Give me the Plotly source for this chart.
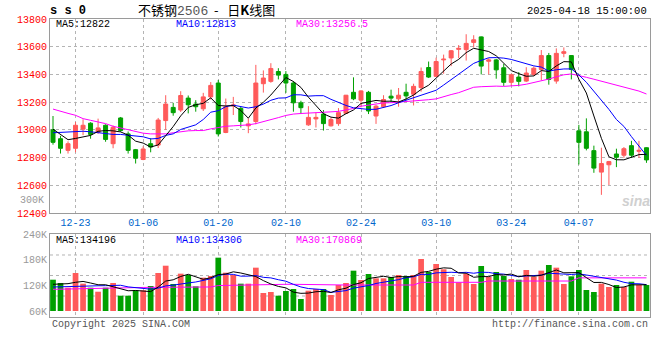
import plotly.graph_objects as go

# ---------------- data ----------------
dates = ["12-18","12-19","12-20","12-23","12-24","12-25","12-26","12-27","12-30","12-31",
         "01-02","01-03","01-06","01-07","01-08","01-09","01-10","01-13","01-14","01-15",
         "01-16","01-17","01-20","01-21","01-22","01-23","01-24","01-27",
         "02-05","02-06","02-07","02-10","02-11","02-12","02-13","02-14","02-17","02-18",
         "02-19","02-20","02-21","02-24","02-25","02-26","02-27","02-28",
         "03-03","03-04","03-05","03-06","03-07","03-10","03-11","03-12","03-13","03-14",
         "03-17","03-18","03-19","03-20","03-21","03-24","03-25","03-26","03-27","03-28","03-31",
         "04-01","04-02","04-03","04-07","04-08","04-09","04-10","04-11",
         "04-14","04-15","04-16","04-17","04-18"]

opens = [13000,12936,12852,12867,13005,13048,12981,13033,12900,13086,
         12971,12857,12786,12900,12890,13067,13162,13143,13229,13186,
         13152,13238,13338,12981,13172,13155,13029,13060,13333,13350,
         13421,13400,13338,13195,13036,13079,13114,13029,13045,13119,
         13271,13214,13271,13100,13167,13243,13224,13271,13257,13305,
         13450,13386,13505,13519,13581,13579,13631,13671,13495,13505,
         13448,13343,13381,13352,13400,13436,13536,13352,13552,13536,
         12993,12986,12850,12695,12748,12826,12817,12886,12845,12871]
highs = [13100,12957,12917,13057,13076,13055,13081,13040,13031,13093,
         12988,12862,12881,12940,13086,13250,13195,13279,13248,13214,
         13267,13345,13360,13226,13238,13167,13083,13469,13429,13481,
         13445,13424,13352,13210,13171,13124,13143,13090,13157,13252,
         13379,13286,13281,13181,13250,13290,13302,13333,13333,13450,
         13493,13521,13543,13576,13612,13690,13683,13674,13517,13512,
         13476,13405,13417,13452,13457,13576,13555,13588,13595,13538,
         13036,13083,12886,12871,12776,12864,12876,12921,12921,12874]
lows = [12893,12829,12829,12838,12962,12936,12971,12914,12867,12986,
        12829,12757,12781,12838,12869,13000,13102,13129,13119,13131,
        13136,13219,12952,12976,13107,13017,12976,13040,13269,13340,
        13364,13267,13131,13114,13029,13017,12995,13024,13029,13114,
        13214,13162,13114,13043,13160,13200,13167,13214,13176,13276,
        13374,13381,13405,13460,13517,13500,13595,13400,13400,13369,
        13317,13317,13314,13345,13388,13357,13326,13333,13524,13364,
        12750,12852,12690,12531,12602,12731,12798,12798,12798,12762]
closes = [12910,12867,12900,13033,13033,12967,13014,12931,13019,12995,
          12852,12795,12862,12876,13071,13186,13124,13248,13181,13167,
          13238,13321,12971,13167,13180,13060,13043,13338,13374,13443,
          13395,13338,13195,13160,13090,13090,13045,13074,13124,13250,
          13224,13281,13136,13171,13219,13229,13250,13245,13314,13421,
          13381,13493,13510,13571,13588,13624,13650,13460,13505,13433,
          13343,13398,13350,13410,13445,13536,13364,13552,13564,13436,
          12910,12867,12724,12757,12771,12802,12864,12817,12852,12783]

# moving-average values before enough history is visible
ma5_head = [13005, 12964, 12929, 12938]
ma10_head = [12979, 12981, 12988, 12990, 12990, 12986, 12979, 12971, 12967]
ma30_head = [13150, 13133, 13119, 13105, 13081, 13069, 13057, 13045, 13026, 13014,
             13000, 12986, 12976, 12971, 12969, 12971, 12979, 12988, 12993, 12995,
             12995, 13007, 13019, 13026, 13029, 13031, 13036, 13045, 13058]

# volume (thousand lots, read on the panel's scale)
volumes = [133.2,125.5,114.5,148.8,123.9,114.5,105.1,114.5,125.5,95.8,
           95.8,108.4,108.4,118.5,148.8,165.9,123.1,147.3,144.2,117.7,
           137.9,141.8,184.7,149.6,144.2,123.9,123.9,161.3,102.1,104.4,
           95.8,106.8,111.4,88.1,107.5,111.4,111.4,97.4,120.8,125.5,
           154.3,132.5,146.5,136.4,136.4,139.5,144.2,141.8,144.2,181.6,
           151.2,169.9,157.5,139.5,127.0,147.3,123.1,165.2,139.5,151.2,
           141.8,134.8,133.2,155.9,140.2,154.3,167.5,161.3,123.1,141.1,
           155.9,109.1,104.4,123.9,116.1,120.8,116.1,128.5,120.8,120.8]
vma5_head = [122.4, 123.1, 123.9, 127.1]
vma10_head = [116.1, 116.8, 117.3, 117.8, 118.5, 118.8, 119.0, 119.2, 119.2]
vol_ma30 = [110.7,111.2,111.7,112.2,112.8,113.1,113.5,113.8,114.1,114.5,
            114.7,114.9,115.1,115.3,115.4,115.5,115.7,115.8,116.0,116.1,
            116.1,116.2,119.5,120.0,120.5,121.0,121.5,121.8,122.2,122.4,
            122.4,122.4,122.4,122.0,121.5,121.0,120.8,120.8,120.8,120.8,
            120.8,120.8,120.8,120.8,120.8,120.8,120.8,120.8,120.8,127.1,
            127.1,127.1,127.1,127.1,127.1,127.1,127.1,127.1,130.1,130.1,
            130.1,130.1,130.1,130.1,130.1,130.1,130.1,130.1,130.1,130.1,
            137.5,137.5,137.5,137.5,137.5,137.5,137.5,137.5,137.5,137.5]

price_ticks = [12400, 12600, 12800, 13000, 13200, 13400, 13600, 13800]
price_tick_text = ["12400", "12600", "12800", "13000", "13200", "13400", "13600", "13800"]
tick_dates = ["12-23", "01-06", "01-20", "02-10", "02-24", "03-10", "03-24", "04-07"]
vol_ticks = [60, 120, 180, 240]
vol_tick_text = ["60K", "120K", "180K", "240K"]
vol_base = 60


def moving_avg(vals, n, head):
    out = list(head)
    for i in range(len(head), len(vals)):
        out.append(sum(vals[i - n + 1:i + 1]) / n)
    return out


ma5 = moving_avg(closes, 5, ma5_head)
ma10 = moving_avg(closes, 10, ma10_head)
ma30 = moving_avg(closes, 30, ma30_head)
vma5 = moving_avg(volumes, 5, vma5_head)
vma10 = moving_avg(volumes, 10, vma10_head)

RED = "#FF5A5A"
GREEN = "#00A000"
MONO = "Liberation Mono, DejaVu Sans Mono, monospace"
GRID = "#B4B4B4"
FRAME = "#9A9A9A"

fig = go.Figure()
fig.add_trace(go.Candlestick(
    x=dates, open=opens, high=highs, low=lows, close=closes,
    increasing=dict(line=dict(color=RED, width=1), fillcolor=RED),
    decreasing=dict(line=dict(color=GREEN, width=1), fillcolor=GREEN),
    whiskerwidth=0, hoverinfo="skip", xaxis="x", yaxis="y"))
for vals, col in [(ma30, "#FF00FF"), (ma10, "#0000FF"), (ma5, "#000000")]:
    fig.add_trace(go.Scatter(x=dates, y=vals, mode="lines",
                             line=dict(color=col, width=1), hoverinfo="skip",
                             xaxis="x", yaxis="y"))

bar_colors = [RED if c >= o else GREEN for o, c in zip(opens, closes)]
fig.add_trace(go.Bar(x=dates, y=[v - vol_base for v in volumes], base=vol_base,
                     marker=dict(color=bar_colors, line=dict(width=0)),
                     hoverinfo="skip", xaxis="x2", yaxis="y2"))
for vals, col in [(vol_ma30, "#FF00FF"), (vma10, "#0000FF"), (vma5, "#000000")]:
    fig.add_trace(go.Scatter(x=dates, y=vals, mode="lines",
                             line=dict(color=col, width=1), hoverinfo="skip",
                             xaxis="x2", yaxis="y2"))

W, H = 660, 360
ML, MR, MT, MB = 50, 10, 19, 43
PW, PH = W - ML - MR, H - MT - MB


def px(x):
    return (x - ML) / PW


def py(y):
    return (H - MB - y) / PH


main_bottom = py(213)
vol_top = py(234)

xcommon = dict(type="category", range=[-0.4, 79.47], tickvals=tick_dates,
               showgrid=True, gridcolor=GRID, griddash="dot", gridwidth=1,
               showline=True, mirror=True, linecolor=FRAME, linewidth=1,
               ticks="", zeroline=False, fixedrange=True)

fig.update_layout(
    width=W, height=H, margin=dict(l=ML, r=MR, t=MT, b=MB),
    paper_bgcolor="white", plot_bgcolor="white", showlegend=False,
    bargap=0.24, boxgap=0.24,
    xaxis=dict(domain=[0, 1], anchor="y", ticktext=tick_dates,
               tickfont=dict(family=MONO, size=10, color="#0066CC"),
               rangeslider=dict(visible=False), **xcommon),
    yaxis=dict(domain=[main_bottom, 1], range=[12400, 13800], tickvals=price_ticks,
               ticktext=price_tick_text,
               tickfont=dict(family=MONO, size=10, color="#FF0000"),
               showgrid=True, gridcolor=GRID, griddash="dot", gridwidth=1,
               showline=True, mirror=True, linecolor=FRAME, linewidth=1,
               ticks="", zeroline=False, fixedrange=True),
    xaxis2=dict(domain=[0, 1], anchor="y2", matches="x", showticklabels=False,
                **xcommon),
    yaxis2=dict(domain=[0, vol_top], range=[46, 240], tickvals=vol_ticks,
                ticktext=vol_tick_text,
                tickfont=dict(family=MONO, size=10, color="#999999"),
                showgrid=False, showline=True, mirror=True, linecolor=FRAME,
                linewidth=1, ticks="", zeroline=False, fixedrange=True),
)

# volume panel horizontal dotted grid
for f in [0.253, 0.5, 0.747]:
    fig.add_shape(type="line", xref="x2 domain", yref="y2 domain", x0=0, x1=1,
                  y0=f, y1=f, line=dict(color=GRID, width=1, dash="dot"),
                  layer="below")


def ann(text, x, y, color="#000000", size=10, xanchor="left", family=MONO, **kw):
    fig.add_annotation(text=text, x=px(x), y=py(y), xref="paper", yref="paper",
                       xanchor=xanchor, yanchor="middle", showarrow=False,
                       font=dict(family=family, size=size, color=color), **kw)


ann("<b>s s 0</b>", 48, 11, size=12)
ann("不锈钢<span style='font-family:Liberation Mono;color:#555555'>2506</span>"
    "&nbsp;&nbsp;-&nbsp;&nbsp;&nbsp;日<b>K</b>线图",
    206, 10, size=13, xanchor="center", family="Noto Sans CJK SC")
ann("2025-04-18 15:00:00", 649, 10.5, size=10.5, xanchor="right")
ann("MA5:12822", 54, 24)
ann("MA10:12813", 174, 24, color="#0000FF")
ann("MA30:13256.5", 294, 24, color="#FF00FF")
ann("300K", 46, 200, color="#999999", xanchor="right")
ann("MA5:134196", 54, 240)
ann("MA10:134306", 174, 240, color="#0000FF")
ann("MA30:170869", 294, 240, color="#FF00FF")
ann("Copyright 2025 SINA.COM", 50, 324, color="#555555")
ann("http://finance.sina.com.cn", 650, 324, color="#555555", xanchor="right")
ann("<i><b>sina</b></i>", 636, 201, color="#D0D0D0", size=14, xanchor="center",
    family="Liberation Sans")

fig.write_html("out.html", config={"displayModeBar": False},
               post_script="document.body.style.margin='0px';")
